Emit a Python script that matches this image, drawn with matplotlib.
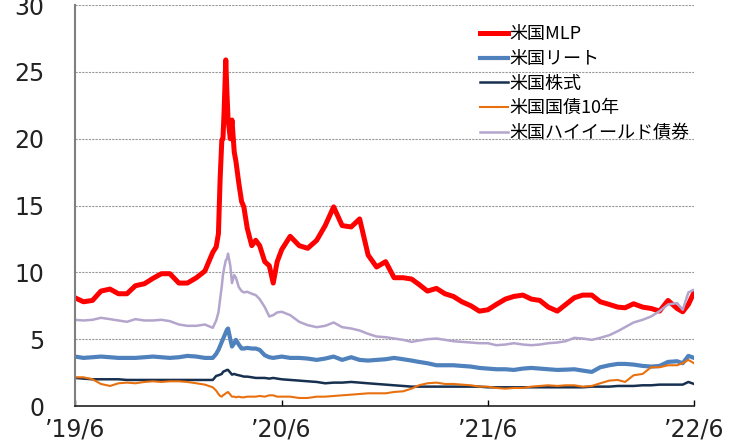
import pandas as pd
import matplotlib
matplotlib.use("Agg")
import matplotlib.pyplot as plt

plt.rcParams["font.family"] = ["Noto Sans CJK JP", "DejaVu Sans"]

# 日付（約半月ごと、2020年3～6月は細かく）
dates = [
    "2019-06-30", "2019-07-15", "2019-07-31", "2019-08-15", "2019-08-31",
    "2019-09-15", "2019-09-30", "2019-10-15", "2019-10-31", "2019-11-15",
    "2019-11-30", "2019-12-15", "2019-12-31", "2020-01-15", "2020-01-31",
    "2020-02-15", "2020-02-29",
    "2020-03-06", "2020-03-10", "2020-03-13", "2020-03-16", "2020-03-18",
    "2020-03-20", "2020-03-23", "2020-03-25", "2020-03-27", "2020-03-31",
    "2020-04-03", "2020-04-07", "2020-04-10", "2020-04-15", "2020-04-20",
    "2020-04-24", "2020-04-30", "2020-05-08", "2020-05-15", "2020-05-22",
    "2020-05-31", "2020-06-08", "2020-06-15", "2020-06-22", "2020-06-30",
    "2020-07-15", "2020-07-31", "2020-08-15", "2020-08-31", "2020-09-15",
    "2020-09-30", "2020-10-15", "2020-10-31", "2020-11-15", "2020-11-30",
    "2020-12-15", "2020-12-31", "2021-01-15", "2021-01-31", "2021-02-15",
    "2021-02-28", "2021-03-15", "2021-03-31", "2021-04-15", "2021-04-30",
    "2021-05-15", "2021-05-31", "2021-06-15", "2021-06-30", "2021-07-15",
    "2021-07-31", "2021-08-15", "2021-08-31", "2021-09-15", "2021-09-30",
    "2021-10-15", "2021-10-31", "2021-11-15", "2021-11-30", "2021-12-15",
    "2021-12-31", "2022-01-15", "2022-01-31", "2022-02-15", "2022-02-28",
    "2022-03-15", "2022-03-31", "2022-04-15", "2022-04-30", "2022-05-15",
    "2022-05-31", "2022-06-10", "2022-06-20", "2022-06-30",
]

mlp = [
    8.1, 7.8, 7.9, 8.6, 8.75, 8.4, 8.4, 9.0, 9.15, 9.55,
    9.9, 9.9, 9.2, 9.2, 9.6, 10.1, 11.5,
    11.9, 12.9, 17.0, 19.9, 20.0, 22.0, 25.9, 23.5, 21.5, 20.0,
    21.4, 19.0, 18.3, 16.7, 15.3, 14.9, 13.3, 12.0, 12.4, 12.0,
    10.8, 10.5, 9.2, 10.8, 11.7,
    12.7, 12.0, 11.8, 12.4, 13.5, 14.9, 13.5, 13.4, 14.0, 11.3,
    10.4, 10.8, 9.6, 9.6, 9.5, 9.1, 8.6, 8.8, 8.4, 8.2,
    7.8, 7.5, 7.1, 7.2, 7.6, 8.0, 8.2, 8.3, 8.0, 7.9,
    7.4, 7.1, 7.6, 8.1, 8.3, 8.3, 7.8, 7.6, 7.4, 7.35,
    7.65, 7.4, 7.3, 7.1, 7.9, 7.3, 7.05, 7.6, 8.5,
]

reit = [
    3.7, 3.6, 3.65, 3.7, 3.65, 3.6, 3.6, 3.6, 3.65, 3.7,
    3.65, 3.6, 3.65, 3.75, 3.7, 3.6, 3.6,
    3.9, 4.2, 4.5, 4.8, 5.0, 5.2, 5.5, 5.7, 5.8, 5.0,
    4.45, 4.7, 4.95, 4.6, 4.3, 4.3, 4.35, 4.3, 4.3, 4.2,
    3.8, 3.65, 3.6, 3.65, 3.7,
    3.6, 3.6, 3.55, 3.45, 3.55, 3.7, 3.45, 3.65, 3.45, 3.4,
    3.45, 3.5, 3.6, 3.5, 3.4, 3.3, 3.2, 3.05, 3.05, 3.05,
    3.0, 2.95, 2.85, 2.8, 2.75, 2.75, 2.7, 2.8, 2.85, 2.8,
    2.75, 2.7, 2.72, 2.75, 2.65, 2.55, 2.9, 3.05, 3.15, 3.15,
    3.1, 3.0, 2.95, 3.0, 3.3, 3.35, 3.2, 3.75, 3.6,
]

stock = [
    2.1, 2.05, 2.0, 2.0, 2.0, 2.0, 1.95, 1.95, 1.95, 1.95,
    1.95, 1.95, 1.95, 1.95, 1.95, 1.95, 1.95,
    2.25, 2.3, 2.35, 2.4, 2.55, 2.6, 2.65, 2.7, 2.7, 2.5,
    2.35, 2.4, 2.35, 2.3, 2.25, 2.2, 2.2, 2.15, 2.1, 2.1,
    2.1, 2.05, 2.1, 2.05, 2.0,
    1.95, 1.9, 1.85, 1.8, 1.7, 1.75, 1.75, 1.8, 1.75, 1.7,
    1.65, 1.6, 1.55, 1.5, 1.45, 1.45, 1.45, 1.45, 1.45, 1.45,
    1.45, 1.45, 1.45, 1.4, 1.4, 1.4, 1.4, 1.4, 1.4, 1.4,
    1.4, 1.4, 1.4, 1.4, 1.4, 1.45, 1.45, 1.45, 1.5, 1.5,
    1.5, 1.55, 1.55, 1.6, 1.6, 1.6, 1.6, 1.8, 1.65,
]

ust10 = [
    2.15, 2.15, 2.0, 1.65, 1.5, 1.7, 1.75, 1.7, 1.8, 1.85,
    1.8, 1.85, 1.85, 1.8, 1.7, 1.6, 1.4,
    1.15, 0.9, 0.75, 0.7, 0.8, 0.85, 0.95, 1.0, 1.05, 0.85,
    0.7, 0.7, 0.65, 0.7, 0.65, 0.65, 0.7, 0.7, 0.7, 0.75,
    0.7, 0.8, 0.8, 0.7, 0.7,
    0.7, 0.6, 0.6, 0.7, 0.7, 0.75, 0.8, 0.85, 0.9, 0.95,
    0.95, 0.95, 1.05, 1.1, 1.3, 1.55, 1.7, 1.75, 1.65, 1.65,
    1.6, 1.55, 1.45, 1.45, 1.35, 1.3, 1.35, 1.35, 1.45, 1.5,
    1.55, 1.5, 1.55, 1.55, 1.45, 1.5, 1.7, 1.9, 1.95, 1.8,
    2.3, 2.4, 2.9, 2.9, 3.05, 3.05, 3.2, 3.45, 3.2,
]

hy = [
    6.45, 6.4, 6.45, 6.6, 6.5, 6.4, 6.3, 6.5, 6.4, 6.4,
    6.45, 6.35, 6.1, 6.0, 6.0, 6.1, 5.85,
    6.4, 7.0, 8.0, 9.0, 9.8, 10.3, 10.9, 11.0, 11.4, 10.5,
    9.2, 9.8, 9.6, 8.9, 8.6, 8.5, 8.55, 8.4, 8.3, 8.0,
    7.4, 6.7, 6.8, 7.0, 7.05,
    6.8, 6.3, 6.05, 5.9, 6.0, 6.25, 5.9, 5.8, 5.65, 5.4,
    5.2, 5.15, 5.05, 4.95, 4.8, 4.9, 5.0, 5.05, 4.95, 4.85,
    4.8, 4.75, 4.7, 4.7, 4.55, 4.6, 4.7, 4.6, 4.55, 4.6,
    4.7, 4.75, 4.85, 5.1, 5.05, 4.95, 5.1, 5.3, 5.6, 5.9,
    6.25, 6.45, 6.7, 7.1, 7.6, 7.7, 7.2, 8.5, 8.7,
]

labels = ["米国MLP", "米国リート", "米国株式", "米国国債10年", "米国ハイイールド債券"]
colors = ["#FF0000", "#4F81BD", "#17304F", "#E8700F", "#B4A5CC"]
widths = [3.6, 3.0, 1.8, 1.5, 1.8]
series = [mlp, reit, stock, ust10, hy]

x = pd.to_datetime(dates)

fig = plt.figure(figsize=(7.3, 4.43), dpi=100)
ax = fig.add_axes([0.1027, 0.0835, 0.848, 0.905])

for s, lab, c, w in zip(series, labels, colors, widths):
    ax.plot(x, s, color=c, linewidth=w, label=lab, solid_joinstyle="round")

ax.set_ylim(0, 30)
ax.set_yticks(range(0, 31, 5))
ax.set_xlim(pd.Timestamp("2019-06-30"), pd.Timestamp("2022-06-30"))
xt = pd.to_datetime(["2019-06-30", "2020-06-30", "2021-06-30", "2022-06-30"])
ax.set_xticks(xt)
ax.set_xticklabels(["\u201919/6", "\u201920/6", "\u201921/6", "\u201922/6"])

ax.yaxis.grid(True, color="#999999", linestyle=(0, (2, 1)), linewidth=0.8)
ax.set_axisbelow(True)

for side in ["top", "right"]:
    ax.spines[side].set_visible(False)
ax.spines["left"].set_color("#7F7F7F")
ax.spines["left"].set_linewidth(1.5)
ax.spines["bottom"].set_color("#222222")
ax.spines["bottom"].set_linewidth(1.2)

ax.tick_params(axis="y", length=0, pad=22, labelsize=17, labelcolor="#222222")
ax.tick_params(axis="x", direction="in", length=4, width=1, pad=8,
               labelsize=17, labelcolor="#222222")
for t in ax.get_xticklabels() + ax.get_yticklabels():
    t.set_fontfamily(["DejaVu Sans"])

ax.legend(loc="upper left", bbox_to_anchor=(0.655, 0.95), frameon=False,
          fontsize=13, handlelength=1.5, handletextpad=0.1,
          labelspacing=0.37, borderaxespad=0, borderpad=0)

fig.savefig("out.png", dpi=100)
